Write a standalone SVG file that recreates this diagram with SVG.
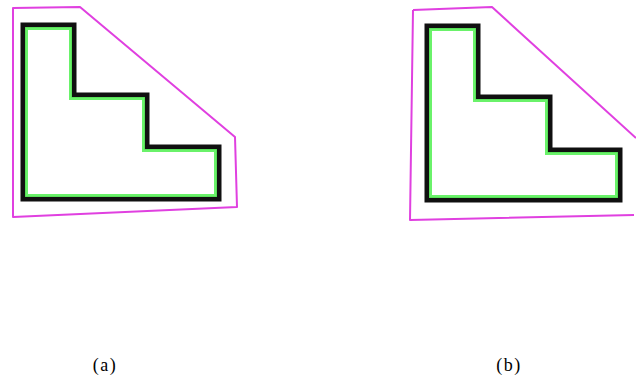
<svg xmlns="http://www.w3.org/2000/svg" width="636" height="381" viewBox="0 0 636 381">
<style>
.hull{fill:none;stroke:#e040e0;stroke-width:2;stroke-linejoin:round}
.blk{fill:none;stroke:#101010;stroke-width:5;stroke-linejoin:miter}
.grn{fill:none;stroke:#50f050;stroke-width:3;stroke-linejoin:miter;opacity:0.85}
.lbl{font-family:"Liberation Serif",serif;font-size:18px;fill:#000;letter-spacing:1.5px}
</style>
<rect width="636" height="381" fill="#fff"/>
<g id="panel-a">
<path class="hull" d="M13,8 L80,7 L235,137 L237,207 L13,217 Z"/>
<path class="blk" d="M23,25 L74,25 L74,95 L147,95 L147,147 L219,147 L219,199 L23,199 Z"/>
<path class="grn" d="M26.5,28.5 L70.5,28.5 L70.5,98.5 L143.5,98.5 L143.5,150.5 L215.5,150.5 L215.5,195.5 L26.5,195.5 Z"/>
</g>
<g id="panel-b">
<path class="hull" d="M413,10 L492,7 L636,138 M634,215 L410,220 L413,10"/>
<path class="blk" d="M427,26 L478,26 L478,97 L550,97 L550,150 L620,150 L620,200 L427,200 Z"/>
<path class="grn" d="M430.5,29.5 L474.5,29.5 L474.5,100.5 L546.5,100.5 L546.5,153.5 L616.5,153.5 L616.5,196.5 L430.5,196.5 Z"/>
</g>
<g id="labels">
<text class="lbl" x="105" y="371" text-anchor="middle">(a)</text>
<text class="lbl" x="509" y="371" text-anchor="middle">(b)</text>
</g>
</svg>
